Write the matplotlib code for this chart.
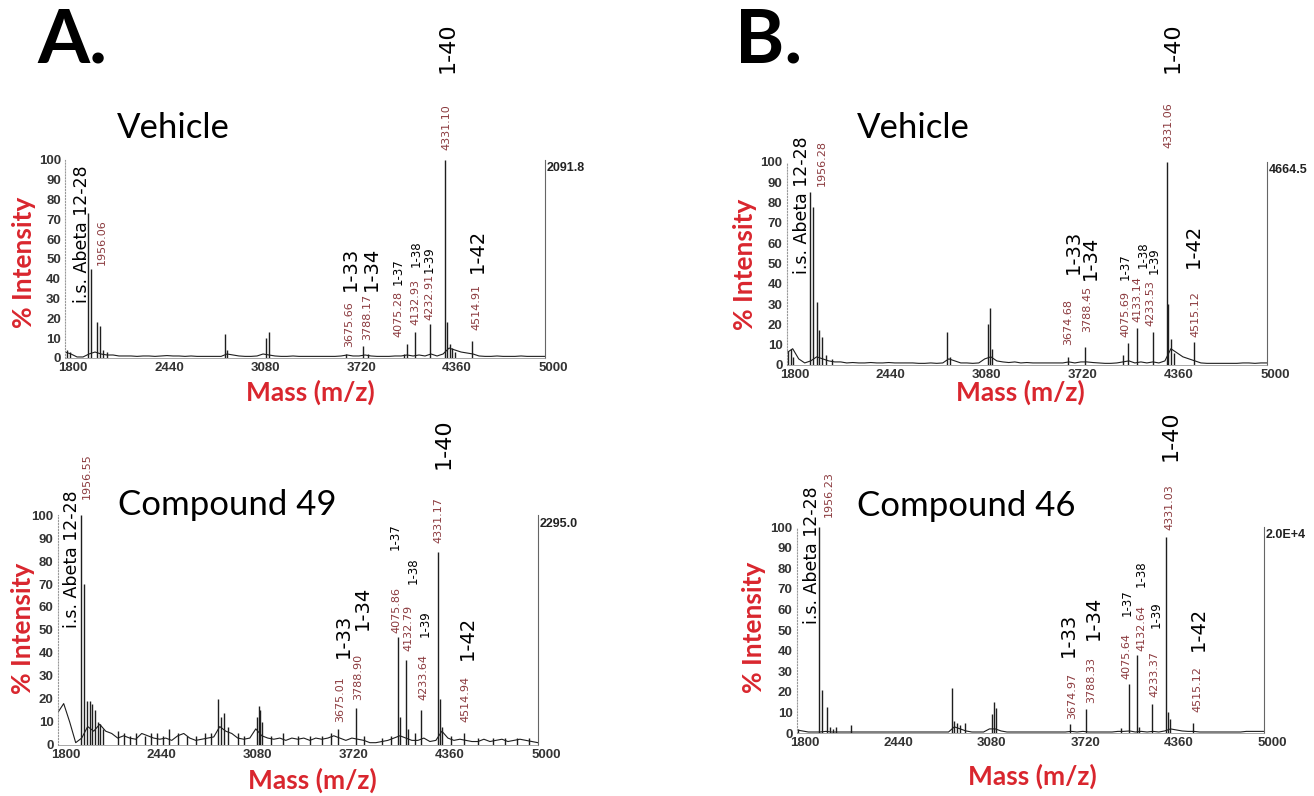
import matplotlib.pyplot as plt
from matplotlib.transforms import ScaledTranslation

# m/z grid for the baseline traces
mz_grid = list(range(1800, 5001, 40))
x_ticks = [1800, 2440, 3080, 3720, 4360, 5000]
y_ticks = list(range(0, 101, 10))

# ---------- A. Vehicle ----------
a1_peak_mz = [1810, 1830, 1956, 1975, 2010, 2033, 2050, 2080, 2867, 2880, 3140, 3160,
              3670, 3788, 3820, 4060, 4078, 4133, 4233, 4331, 4345, 4365, 4380, 4400, 4515]
a1_peak_int = [4, 3, 73, 45, 18, 16, 4, 3, 12, 4, 10, 13,
               2, 6, 2, 2, 7, 13, 17, 100, 18, 7, 5, 3, 8.5]
a1_base = [3, 2, 0.5, 0.5, 2, 3, 2, 1.5, 1.5, 1,
           1, 1, 0.8, 1, 1, 0.8, 1, 1.2, 1, 1,
           0.8, 1, 0.8, 0.8, 0.8, 0.8, 0.8, 2, 1.5, 1,
           0.8, 0.8, 1, 2, 1.5, 1, 0.8, 0.8, 1, 0.8,
           0.8, 0.8, 0.8, 0.8, 0.8, 0.8, 1, 1.5, 1, 1,
           1.5, 1, 0.8, 0.8, 0.8, 1, 1, 1.5, 1, 1.5,
           1, 2, 1, 2, 5, 4, 3, 2.5, 2, 1,
           0.8, 0.8, 1, 0.8, 0.8, 0.8, 1, 0.8, 0.8, 0.8, 0.8]
a1_max = "2091.8"
a1_ann = [("i.s. Abeta 12-28", 1911, 28, "is"), ("1956.06", 2045, 47, "num"),
          ("3675.66", 3693, 5.6, "num"), ("1-33", 3705, 34, "big"),
          ("3788.17", 3811, 9, "num"), ("1-34", 3845, 34, "big"),
          ("4075.28", 4020, 10.6, "num"), ("1-37", 4020, 37, "small"),
          ("4132.93", 4138, 16.7, "num"), ("1-38", 4138, 46, "small"),
          ("4232.91", 4226, 19, "num"), ("1-39", 4226, 43, "small"),
          ("4331.10", 4340, 105, "num"), ("1-40", 4347, 144, "top"),
          ("4514.91", 4545, 14, "num"), ("1-42", 4547, 43, "big")]

# ---------- A. Compound 49 ----------
a2_peak_mz = [1956, 1975, 1993, 2015, 2030, 2048, 2068, 2085, 2105, 2200, 2240, 2280,
              2320, 2380, 2420, 2460, 2500, 2540, 2600, 2660, 2720, 2780, 2820, 2870,
              2885, 2905, 2935, 3000, 3040, 3125, 3140, 3150, 3160, 3220, 3300, 3400,
              3480, 3560, 3620, 3670, 3788, 3840, 3960, 4020, 4066, 4080, 4122, 4135,
              4180, 4222, 4331, 4345, 4360, 4420, 4510, 4600, 4700, 4780, 4860, 4940]
a2_peak_int = [100, 70, 19, 19, 18, 15, 10, 9, 7, 6, 5, 4,
               5, 4, 5, 5, 4, 7, 5, 4, 4, 5, 5, 20,
               12, 14, 8, 5, 4, 12, 17, 15, 10, 4, 5, 4,
               4, 4, 5, 7, 16, 4, 3, 4, 47, 12, 37, 7,
               5, 15, 84, 20, 8, 4, 5, 3, 3, 3, 3, 3]
a2_base = [14, 18, 10, 1, 3, 8, 6, 9, 6, 5,
           3, 4, 3, 2.5, 5, 4, 3, 2.5, 3, 2,
           4, 5, 3, 2, 2.5, 3, 3.5, 8, 6, 5,
           3, 2.5, 3, 7, 4, 3, 2.5, 3, 2, 3,
           2.5, 3, 2, 3, 2.5, 3, 4, 3, 2, 3,
           2.5, 2, 1, 1, 1.5, 2, 3, 4, 3, 2,
           2, 3, 1.5, 2, 6, 3, 2, 2.5, 2, 1.5,
           1.5, 2.5, 1.5, 2, 2.5, 1.5, 2, 2.5, 2, 1.5, 1]
a2_max = "2295.0"
a2_ann = [("i.s. Abeta 12-28", 1895, 51, "is"), ("1956.55", 1992, 107, "num"),
          ("3675.01", 3682, 10, "num"), ("1-33", 3702, 38, "big"),
          ("3788.90", 3802, 19.6, "num"), ("1-34", 3829, 50, "big"),
          ("4075.86", 4058, 48.7, "num"), ("1-37", 4049, 85, "small"),
          ("4132.79", 4134, 41, "num"), ("1-38", 4169, 70, "small"),
          ("4233.64", 4235, 19.6, "num"), ("1-39", 4249, 47, "small"),
          ("4331.17", 4335, 88, "num"), ("1-40", 4369, 120, "top"),
          ("4514.94", 4515, 10, "num"), ("1-42", 4529, 37, "big")]

# ---------- B. Vehicle ----------
b1_peak_mz = [1810, 1830, 1845, 1956, 1975, 2000, 2015, 2035, 2060, 2100, 2870, 2885,
              3140, 3155, 3165, 3673, 3790, 4040, 4073, 4133, 4238, 4331, 4342, 4360,
              4380, 4515]
b1_peak_int = [7, 8, 4, 85, 78, 31, 17, 14, 5, 3, 16, 4,
               20, 28, 8, 4, 9, 5, 11, 18, 16, 100, 30, 13,
               6, 11.5]
b1_base = [6, 8, 3, 1, 2, 4, 3, 2, 1.5, 1.5,
           1, 1.2, 1, 1, 1.2, 1, 1, 1.2, 1, 1,
           1, 1, 0.8, 0.8, 1, 0.8, 1, 3, 2, 1,
           1, 0.8, 1, 3, 4, 2, 1.5, 1.2, 1.5, 1,
           1.2, 1, 1, 1, 1, 1, 1, 1.5, 1, 1.5,
           1.5, 1.2, 1, 0.8, 0.8, 1, 1.5, 2, 1, 1.5,
           1, 1.5, 1, 2, 8, 6, 4, 3, 2, 1,
           0.8, 0.8, 0.8, 0.8, 0.8, 0.8, 1, 1, 0.8, 1, 1]
b1_max = "4664.5"
b1_ann = [("i.s. Abeta 12-28", 1902, 45, "is"), ("1956.28", 2035, 88, "num"),
          ("3674.68", 3675, 10, "num"), ("1-33", 3709, 45, "big"),
          ("3788.45", 3802, 16, "num"), ("1-34", 3822, 42, "big"),
          ("4075.69", 4058, 14, "num"), ("1-37", 4058, 42, "small"),
          ("4133.14", 4140, 21, "num"), ("1-38", 4172, 48, "small"),
          ("4233.53", 4222, 19, "num"), ("1-39", 4250, 45, "small"),
          ("4331.06", 4342, 107, "num"), ("1-40", 4370, 144, "top"),
          ("4515.12", 4522, 14, "num"), ("1-42", 4509, 48, "big")]

# ---------- B. Compound 46 ----------
b2_peak_mz = [1810, 1956, 1973, 2005, 2030, 2050, 2070, 2172, 2866, 2880, 2895, 2920,
              2950, 3138, 3150, 3165, 3672, 3782, 4020, 4075, 4133, 4145, 4232, 4331,
              4345, 4360, 4515]
b2_peak_int = [2, 100, 21, 12.5, 3, 2, 3, 4, 22, 6, 5, 4,
               5, 9, 15, 12, 4.5, 11.6, 2.4, 24, 38, 3, 14, 95,
               10, 7, 5]
b2_base = [1.5, 1, 0.5, 0.5, 0.5, 0.8, 0.5, 0.5, 0.5, 0.5,
           0.5, 0.5, 0.5, 0.5, 0.5, 0.5, 0.5, 0.5, 0.5, 0.5,
           0.5, 0.5, 0.5, 0.5, 0.5, 0.5, 0.5, 3, 2, 1,
           0.5, 0.5, 0.5, 2, 2, 1, 0.5, 0.5, 0.5, 0.5,
           0.5, 0.5, 0.5, 0.5, 0.5, 0.5, 0.5, 0.8, 0.5, 0.8,
           0.5, 0.5, 0.5, 0.5, 0.5, 0.8, 0.8, 1, 0.5, 0.8,
           0.5, 0.8, 0.5, 1, 2, 1.5, 1, 0.8, 0.8, 0.5,
           0.5, 0.5, 0.5, 0.5, 0.5, 0.5, 0.5, 0.8, 0.8, 0.8, 0.8]
b2_max = "2.0E+4"
b2_ann = [("i.s. Abeta 12-28", 1905, 53, "is"), ("1956.23", 2021, 105, "num"),
          ("3674.97", 3686, 7, "num"), ("1-33", 3658, 37, "big"),
          ("3788.33", 3816, 14.6, "num"), ("1-34", 3830, 45, "big"),
          ("4075.64", 4056, 26, "num"), ("1-37", 4063, 57, "small"),
          ("4132.64", 4159, 40, "num"), ("1-38", 4159, 71, "small"),
          ("4233.37", 4248, 17.5, "num"), ("1-39", 4262, 51, "small"),
          ("4331.03", 4351, 98.5, "num"), ("1-40", 4358, 132, "top"),
          ("4515.12", 4543, 10, "num"), ("1-42", 4550, 40, "big")]

RED = "#d9262e"
NUM = "#8b3a3e"
ann_style = {
    "is": dict(fontsize=12.5, color="black"),
    "num": dict(fontsize=8, color=NUM),
    "big": dict(fontsize=14, color="black"),
    "top": dict(fontsize=16, color="black"),
    "small": dict(fontsize=8.5, color="black"),
}

fig = plt.figure(figsize=(13.14, 7.96), dpi=100)


def spectrum(rect, peak_mz, peak_int, base, max_txt, ann):
    ax = fig.add_axes(rect)
    ax.plot(mz_grid, base, color="#1e1e1e", lw=0.8)
    ax.vlines(peak_mz, 0, peak_int, color="#1e1e1e", lw=1.0)
    ax.set_xlim(1800, 5000)
    ax.set_ylim(0, 100)
    ax.set_xticks(x_ticks)
    ax.set_yticks(y_ticks)
    ax.tick_params(length=0, labelsize=9.5, labelcolor="#333333", pad=3)
    for lbl in ax.get_xticklabels() + ax.get_yticklabels():
        lbl.set_fontweight("bold")
        lbl.set_family("Liberation Sans")
    for lbl in ax.get_xticklabels():
        lbl.set_transform(lbl.get_transform() + ScaledTranslation(0.08, 0, fig.dpi_scale_trans))
    ax.spines["top"].set_visible(False)
    ax.spines["left"].set_linestyle(":")
    ax.spines["left"].set_color("#999999")
    ax.spines["right"].set_color("#666666")
    ax.spines["right"].set_linewidth(0.8)
    ax.spines["bottom"].set_color("#999999")
    ax.spines["bottom"].set_linewidth(0.6)
    ax.text(1.004, 0.96, max_txt, transform=ax.transAxes, ha="left", va="center",
            fontsize=9, fontweight="bold", family="Liberation Sans", color="#222222")
    for txt, mz, y, kind in ann:
        ax.text(mz, y, txt, rotation=90, ha="center", va="bottom", clip_on=False,
                family="DejaVu Sans", **ann_style[kind])
    return ax


spectrum([0.0495, 0.5503, 0.3653, 0.2487], a1_peak_mz, a1_peak_int, a1_base, a1_max, a1_ann)
spectrum([0.0439, 0.0641, 0.3655, 0.2889], a2_peak_mz, a2_peak_int, a2_base, a2_max, a2_ann)
spectrum([0.5987, 0.5415, 0.3655, 0.2550], b1_peak_mz, b1_peak_int, b1_base, b1_max, b1_ann)
spectrum([0.6063, 0.0791, 0.3556, 0.2588], b2_peak_mz, b2_peak_int, b2_base, b2_max, b2_ann)

# panel letters and titles
fig.text(0.0282, 0.9485, "A.", fontsize=54, fontweight="bold", family="Lato", ha="left", va="center")
fig.text(0.5594, 0.9485, "B.", fontsize=54, fontweight="bold", family="Lato", ha="left", va="center")
for x, y, t in [(0.1317, 0.8392, "Vehicle"), (0.1728, 0.3656, "Compound 49"),
                (0.6948, 0.8392, "Vehicle"), (0.7352, 0.3643, "Compound 46")]:
    fig.text(x, y, t, fontsize=25, family="Lato", ha="center", va="center")

# axis labels
for x, y in [(0.0183, 0.6709), (0.0175, 0.2111), (0.5670, 0.6683), (0.5738, 0.2123)]:
    fig.text(x, y, "% Intensity", rotation=90, fontsize=19, fontweight="bold", family="Lato",
             color=RED, ha="center", va="center")
for x, y in [(0.2359, 0.5075), (0.2374, 0.0201), (0.7763, 0.5075), (0.7854, 0.0251)]:
    fig.text(x, y, "Mass (m/z)", fontsize=19, fontweight="bold", family="Lato", color=RED,
             ha="center", va="center")

fig.savefig("out.png", dpi=100)
